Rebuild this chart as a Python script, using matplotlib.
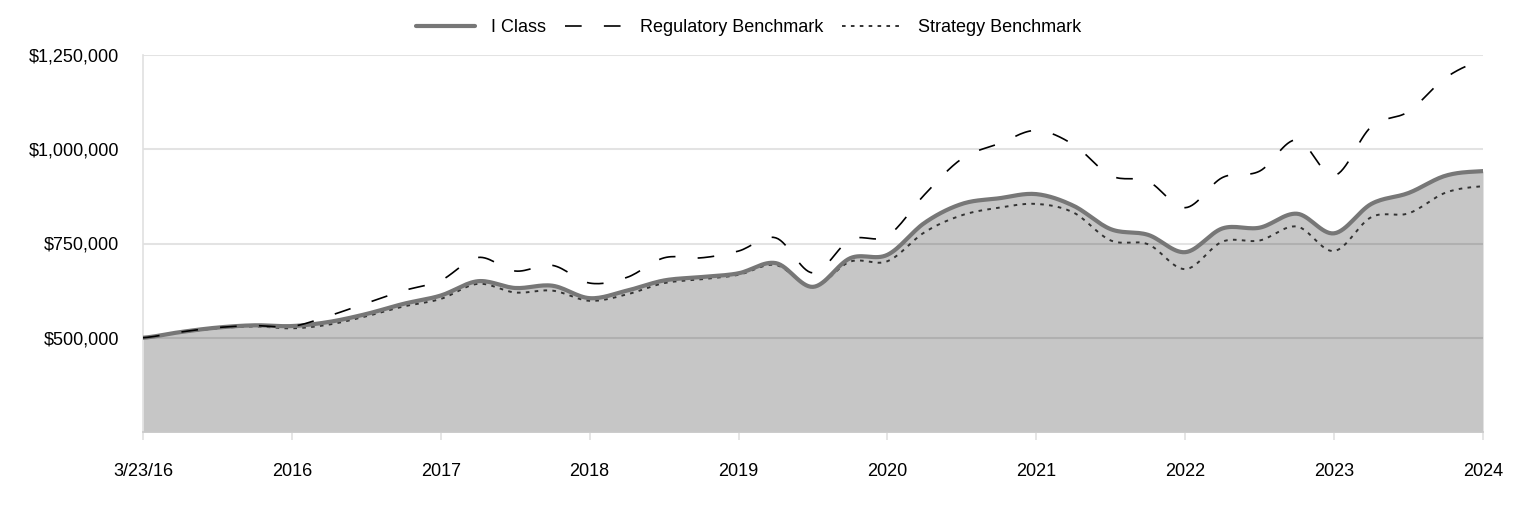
import numpy as np
import matplotlib
matplotlib.use("Agg")
import matplotlib.pyplot as plt
from matplotlib.ticker import FuncFormatter

# ---- data (quarterly readings, values in $) ----
x_labels = ["3/23/16", "2016", "2017", "2018", "2019", "2020", "2021", "2022", "2023", "2024"]

i_class = [500000, 515000, 527000, 533000, 531000, 542000, 563000, 590000, 612000,
           650000, 632000, 638000, 605000, 625000, 652000, 661000, 671000, 698000,
           635000, 711000, 720000, 805000, 855000, 870000, 881000, 850000, 788000,
           773000, 727000, 790000, 792000, 829000, 777000, 855000, 884000, 930000, 942000]

regulatory = [500000, 515000, 527000, 532000, 530000, 558000, 592000, 625000, 652000,
              713000, 677000, 692000, 645000, 660000, 712000, 712000, 730000, 765000,
              672000, 760000, 770000, 880000, 975000, 1015000, 1050000, 1012000, 930000,
              915000, 845000, 925000, 942000, 1025000, 930000, 1060000, 1100000, 1190000, 1235000]

strategy = [500000, 514000, 525000, 530000, 525000, 535000, 557000, 583000, 603000,
            643000, 620000, 625000, 598000, 615000, 645000, 655000, 667000, 693000,
            635000, 702000, 703000, 780000, 825000, 845000, 855000, 832000, 758000,
            748000, 682000, 755000, 758000, 795000, 730000, 820000, 830000, 885000, 902000]

y_ticks = [500000, 750000, 1000000, 1250000]


def smooth(y, n=16):
    """Catmull-Rom curve through the given points (for drawing only)."""
    y = np.asarray(y, dtype=float)
    x = np.arange(len(y), dtype=float)
    yp = np.concatenate([[y[0]], y, [y[-1]]])
    xs, ys = [], []
    for k in range(len(y) - 1):
        p0, p1, p2, p3 = yp[k], yp[k + 1], yp[k + 2], yp[k + 3]
        t = np.linspace(0, 1, n, endpoint=False)
        v = 0.5 * ((2 * p1) + (-p0 + p2) * t + (2 * p0 - 5 * p1 + 4 * p2 - p3) * t ** 2
                   + (-p0 + 3 * p1 - 3 * p2 + p3) * t ** 3)
        xs.append(x[k] + t)
        ys.append(v)
    xs.append([x[-1]])
    ys.append([y[-1]])
    return np.concatenate(xs), np.concatenate(ys)


plt.rcParams['font.family'] = ['Liberation Sans', 'DejaVu Sans']
plt.rcParams['lines.scale_dashes'] = False

fig = plt.figure(figsize=(15.24, 5.16), dpi=100)
ax = fig.add_axes([143 / 1524, 1 - 432 / 516, (1483 - 143) / 1524, (432 - 55) / 516])

ymin = 250000
xi, yi = smooth(i_class)
xr, yr = smooth(regulatory)
xs_, ys_ = smooth(strategy)

ax.fill_between(xi, ymin, yi, color="#c6c6c6", linewidth=0, zorder=1)
for t in y_ticks:
    ax.axhline(t, color="black", alpha=0.11, linewidth=1.5, zorder=2)

ax.plot(xi, yi, color="#777777", linewidth=3.0, solid_capstyle="round", zorder=4, label="I Class")
ax.plot(xr, yr, color="black", linewidth=1.2, dashes=(12, 16), zorder=5, label="Regulatory Benchmark")
ax.plot(xs_, ys_, color="#333333", linewidth=1.4, dashes=(2.6, 3.8), zorder=3, label="Strategy Benchmark")

ax.set_xlim(0, len(i_class) - 1)
ax.set_ylim(ymin, 1250000)
ax.set_xticks(np.arange(0, len(i_class), 4))
ax.set_xticklabels(x_labels)
ax.set_yticks(y_ticks)
ax.yaxis.set_major_formatter(FuncFormatter(lambda v, p: f"${v:,.0f}"))

ax.tick_params(axis="x", length=6, width=1.2, color="#e0e0e0", pad=16, labelsize=13, labelcolor="black")
ax.tick_params(axis="y", length=0, pad=17, labelsize=13, labelcolor="black")

for s in ["top", "right"]:
    ax.spines[s].set_visible(False)
ax.spines["left"].set_color("#e0e0e0")
ax.spines["left"].set_linewidth(1.2)
ax.spines["bottom"].set_color("#c8c8c8")
ax.spines["bottom"].set_linewidth(1.2)

handles, labels = ax.get_legend_handles_labels()
fig.legend(handles, labels, loc="center", bbox_to_anchor=(0.491, 0.946), ncol=3, frameon=False,
           fontsize=13, handlelength=3.3, handletextpad=0.9, columnspacing=1.0)

fig.savefig("out.png", dpi=100)
